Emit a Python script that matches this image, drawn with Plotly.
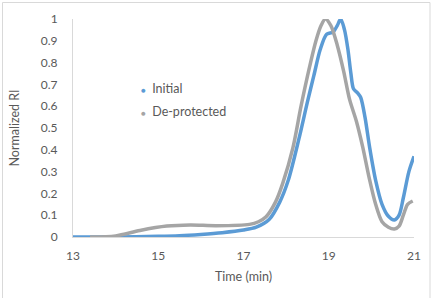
import plotly.graph_objects as go

# Time (min) and normalized RI values
t_initial = [13.0, 14.0, 15.0, 15.5, 16.0, 16.5, 17.0, 17.3, 17.6, 17.85, 18.05, 18.3, 18.5, 18.65,
             18.8, 18.95, 19.1, 19.2, 19.28, 19.37, 19.45, 19.52, 19.58, 19.68, 19.75, 19.85, 19.96,
             20.1, 20.25, 20.4, 20.54, 20.65, 20.75, 20.88, 21.0]
ri_initial = [0.0, 0.0, 0.003, 0.006, 0.012, 0.02, 0.032, 0.045, 0.08, 0.16, 0.26, 0.45, 0.62, 0.74,
              0.86, 0.93, 0.94, 0.97, 1.0, 0.95, 0.86, 0.75, 0.68, 0.66, 0.64, 0.55, 0.41,
              0.26, 0.15, 0.095, 0.078, 0.1, 0.18, 0.3, 0.37]

t_deprot = [13.4, 14.0, 14.57, 15.2, 15.75, 16.36, 17.14, 17.35, 17.53, 17.75, 17.92, 18.16, 18.35,
            18.55, 18.7, 18.82, 18.92, 19.05, 19.2, 19.35, 19.49, 19.65, 19.8, 19.95, 20.1, 20.25,
            20.4, 20.54, 20.65, 20.75, 20.85, 20.97]
ri_deprot = [0.0, 0.005, 0.03, 0.05, 0.055, 0.052, 0.058, 0.07, 0.093, 0.16, 0.246, 0.41, 0.6,
             0.78, 0.9, 0.97, 1.0, 0.97, 0.88, 0.76, 0.63, 0.53, 0.41, 0.27, 0.15, 0.07,
             0.045, 0.037, 0.05, 0.1, 0.15, 0.165]

series_names = ["Initial", "De-protected"]
series_colors = ["#5B9BD5", "#A5A5A5"]
x_ticks = [13, 15, 17, 19, 21]

fig = go.Figure()
fig.add_trace(go.Scatter(x=t_initial, y=ri_initial, mode="lines", name=series_names[0],
                         line=dict(color=series_colors[0], width=3.5, shape="spline", smoothing=0.8), showlegend=False))
fig.add_trace(go.Scatter(x=t_deprot, y=ri_deprot, mode="lines", name=series_names[1],
                         line=dict(color=series_colors[1], width=3.5, shape="spline", smoothing=0.8), showlegend=False))

W, H = 432, 298
ml, mr, mt, mb = 73, 18, 19, 61
pw, ph = W - ml - mr, H - mt - mb

def px2paper(px, py):
    return (px - ml) / pw, (H - mb - py) / ph

x0, y0 = px2paper(2.5, 2.5)
x1, y1 = px2paper(430, 310)

annotations = []
for i, (name, col) in enumerate(zip(series_names, series_colors)):
    ax, ay = px2paper(139, 88 + 23 * i)
    annotations.append(dict(xref="paper", yref="paper", x=ax, y=ay, xanchor="left", yanchor="middle",
                            showarrow=False, align="left",
                            text=f"<span style='color:{col};font-size:8px'>●</span>  {name}",
                            font=dict(size=12.5, color="#595959")))

fig.update_layout(
    width=W, height=H,
    margin=dict(l=ml, r=mr, t=mt, b=mb),
    paper_bgcolor="white", plot_bgcolor="white",
    font=dict(family="Lato, Carlito, sans-serif", color="#595959", size=12),
    showlegend=False,
    annotations=annotations,
    shapes=[dict(type="rect", xref="paper", yref="paper", x0=x0, y0=y1, x1=x1, y1=y0,
                 line=dict(color="#D9D9D9", width=1), layer="below")],
    xaxis=dict(range=[13, 21], tickvals=x_ticks, showgrid=False, zeroline=False,
               showline=True, linecolor="#D9D9D9", linewidth=1, ticks="", ticklabelstandoff=8,
               title=dict(text="Time (min)", font=dict(size=12.5, color="#595959"), standoff=9),
               tickfont=dict(size=12, color="#595959")),
    yaxis=dict(range=[0, 1], dtick=0.1, showgrid=False, zeroline=False,
               showline=True, linecolor="#D9D9D9", linewidth=1, ticks="", ticklabelstandoff=12,
               title=dict(text="Normalized RI", font=dict(size=12.5, color="#595959"), standoff=18),
               tickfont=dict(size=12, color="#595959")),
)

fig.write_html("out.html")
